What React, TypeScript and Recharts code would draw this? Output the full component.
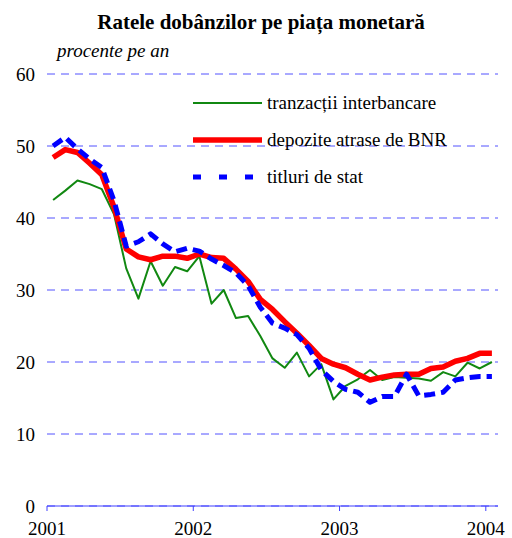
import { CartesianGrid, Line, LineChart, XAxis, YAxis } from "recharts";

// monthly, Jan 2001 .. Jan 2004
const yearLabels = ["2001", "2002", "2003", "2004"];
const yearTicks = [0, 12, 24, 36];
const yTicks = [0, 10, 20, 30, 40, 50, 60];

const interbancare = [
  42.5, 43.8, 45.2, 44.7, 44.0, 40.5, 33.0, 28.8, 34.0, 30.6, 33.2, 32.6,
  34.7, 28.1, 30.0, 26.1, 26.4, 23.6, 20.5, 19.2, 21.3, 18.0, 19.7, 14.8,
  16.7, 17.6, 18.9, 17.5, 17.9, 17.8, 17.7, 17.4, 18.6, 18.0, 19.9, 19.1,
  20.0,
];
const depoziteBNR = [
  48.4, 49.5, 49.1, 47.6, 46.0, 41.5, 35.7, 34.6, 34.2, 34.7, 34.7, 34.4,
  35.0, 34.5, 34.4, 32.9, 31.2, 28.7, 27.3, 25.6, 24.0, 22.3, 20.5, 19.7,
  19.2, 18.3, 17.5, 17.9, 18.2, 18.3, 18.3, 19.1, 19.3, 20.1, 20.5, 21.2,
  21.2,
];
const titluriStat = [
  50.0, 51.2, 49.6, 48.2, 47.0, 42.4, 36.1, 36.7, 37.8, 36.4, 35.3, 35.8,
  35.4, 34.3, 33.4, 32.4, 30.6, 27.6, 25.4, 24.7, 23.8, 21.9, 18.9, 17.3,
  16.2, 15.8, 14.4, 15.2, 15.2, 18.3, 15.3, 15.5, 15.8, 17.5, 17.8, 18.0,
  18.0,
];

const series = [
  { key: "interbancare", name: "tranzacții interbancare", color: "#118811", width: 2, dash: undefined, legendDash: undefined },
  { key: "depozite", name: "depozite atrase de BNR", color: "#ff0000", width: 5.5, dash: undefined, legendDash: undefined },
  { key: "titluri", name: "titluri de stat", color: "#0000ff", width: 5, dash: "11 6", legendDash: "8 18" },
];

const data = interbancare.map((v, i) => ({
  x: i + 0.5,
  interbancare: v,
  depozite: depoziteBNR[i],
  titluri: titluriStat[i],
}));

const font = "'Liberation Serif', 'Times New Roman', serif";

const XTick = (props: any) => (
  <text x={props.x} y={props.y} dy="0.71em" textAnchor="middle" fontSize={19} fill="#000" style={{ fontFamily: font }}>
    {yearLabels[yearTicks.indexOf(props.payload.value)]}
  </text>
);

const YTick = (props: any) => (
  <text x={props.x} y={props.y} dy="0.36em" textAnchor="end" fontSize={19} fill="#000" style={{ fontFamily: font }}>
    {props.payload.value}
  </text>
);

export default function App() {
  return (
    <div style={{ position: "absolute", left: 0, top: 0, width: 512, height: 538, background: "#fff", fontFamily: font }}>
      <style>{`svg text { font-family: 'Liberation Serif', 'Times New Roman', serif !important; }`}</style>
      <LineChart width={512} height={538} data={data} margin={{ top: 74, right: 14, bottom: 0, left: 0 }}>
        <CartesianGrid vertical={false} stroke="#5252ff" strokeDasharray="8 6" />
        <XAxis
          type="number"
          dataKey="x"
          domain={[0, 37]}
          ticks={yearTicks}
          stroke="#4040ff"
          tickSize={5}
          tickMargin={11}
          height={32}
          tick={XTick}
          interval={0}
        />
        <YAxis
          domain={[0, 60]}
          ticks={yTicks}
          axisLine={false}
          tickLine={false}
          width={47}
          tickMargin={6}
          tick={YTick}
        />
        {series.map((s) => (
          <Line
            key={s.key}
            dataKey={s.key}
            name={s.name}
            stroke={s.color}
            strokeWidth={s.width}
            strokeDasharray={s.dash}
            dot={false}
            isAnimationActive={false}
            strokeLinejoin="round"
          />
        ))}
      </LineChart>
      <svg width={512} height={538} style={{ position: "absolute", left: 0, top: 0, pointerEvents: "none" }}>
        <text x={261} y={29} textAnchor="middle" fontWeight="bold" fontSize={21}>
          Ratele dobânzilor pe piața monetară
        </text>
        <text x={57} y={57} fontStyle="italic" fontSize={19}>
          procente pe an
        </text>
        {series.map((s, i) => {
          const y = 103 + i * 37;
          return (
            <g key={s.key}>
              <line x1={193} x2={262} y1={y} y2={y} stroke={s.color} strokeWidth={s.width} strokeDasharray={s.legendDash} />
              <text x={267} y={y + 6} fontSize={19}>
                {s.name}
              </text>
            </g>
          );
        })}
      </svg>
    </div>
  );
}
